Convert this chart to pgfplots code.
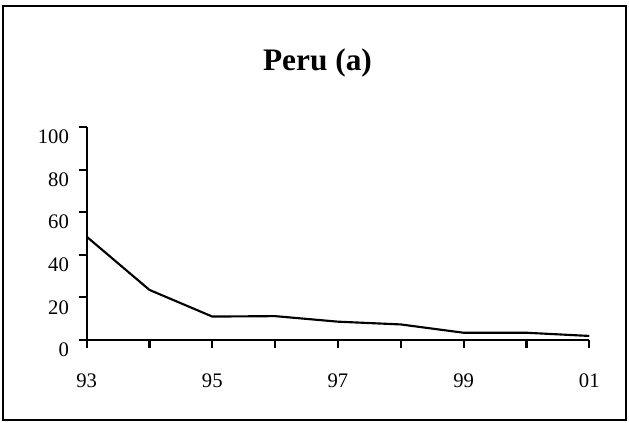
\documentclass[border=0pt]{standalone}
\usepackage{pgfplots}
\pgfplotsset{compat=1.18}
\usepackage{fontspec}
\setmainfont{Liberation Serif}
\begin{document}
\begin{tikzpicture}
\useasboundingbox (0,0) rectangle (471.75pt,317.25pt);
\draw[line width=1.5pt] (2.6pt,2.25pt) rectangle (469.5pt,312.4pt);
\begin{axis}[
  at={(65.0pt,62.25pt)}, anchor=south west,
  scale only axis, width=376.95pt, height=159.75pt,
  xmin=93, xmax=101, ymin=0, ymax=100,
  axis x line*=bottom, axis y line*=left,
  axis line style={line width=1.6pt, -},
  xtick={93,...,101}, xticklabels={93,,95,,97,,99,,01},
  ytick={0,20,...,100},
  tick align=outside, major tick length=5.8pt,
  tick style={line width=1.6pt, black},
  /pgf/number format/assume math mode=true,
  xticklabel style={font=\fontsize{15.5}{17}\selectfont, anchor=north, yshift=-16pt},
  yticklabel style={font=\fontsize{15.5}{17}\selectfont, anchor=east, yshift=-7.5pt, xshift=-4pt},
  clip=false,
]
\addplot[black, line width=1.6pt] coordinates {
(93,48.5) (94,23.5) (95,11) (96,11.2) (97,8.6) (98,7.3) (99,3.4) (100,3.4) (101,1.9)
};
\end{axis}
\node[font=\bfseries\fontsize{23.5}{27}\selectfont] at (238.1pt,270.2pt) {Peru (a)};
\end{tikzpicture}
\end{document}
